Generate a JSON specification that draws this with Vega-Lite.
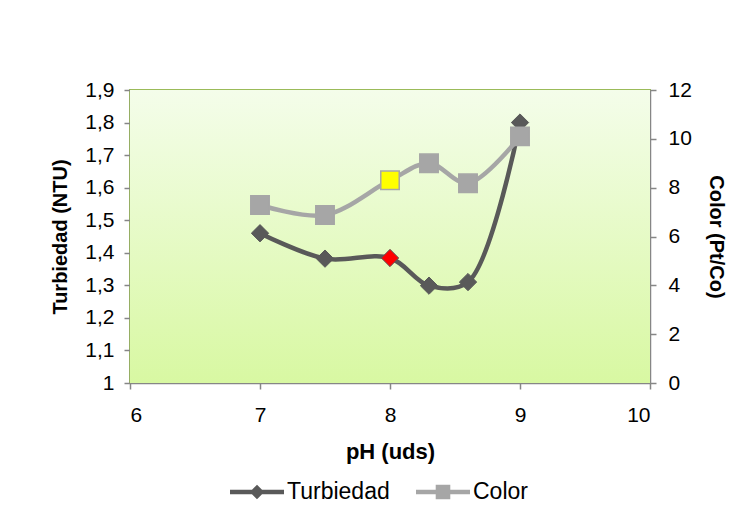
{
  "$schema": "https://vega.github.io/schema/vega-lite/v6.json",
  "width": 520,
  "height": 293,
  "autosize": "none",
  "padding": {"left": 130, "top": 90, "right": 93, "bottom": 144},
  "background": "white",
  "config": {
    "font": "Liberation Sans",
    "view": {"stroke": "#9bbb59", "strokeWidth": 2},
    "axis": {
      "grid": false,
      "domainColor": "#868686",
      "domainWidth": 1.5,
      "tickColor": "#868686",
      "tickWidth": 1.5,
      "tickSize": 6,
      "labelFont": "Liberation Sans",
      "labelFontSize": 21,
      "labelColor": "#000000",
      "labelOverlap": false,
      "titleFont": "Liberation Sans",
      "titleFontSize": 20,
      "titleFontWeight": "bold",
      "titleColor": "#000000"
    }
  },
  "data": {
    "values": [
      {"pH": 7.0, "turbiedad": 1.46, "color": 7.29},
      {"pH": 7.5, "turbiedad": 1.382, "color": 6.88},
      {"pH": 8.0, "turbiedad": 1.384, "color": 8.3},
      {"pH": 8.3, "turbiedad": 1.299, "color": 9.0},
      {"pH": 8.6, "turbiedad": 1.31, "color": 8.18},
      {"pH": 9.0, "turbiedad": 1.80, "color": 10.1}
    ]
  },
  "encoding": {
    "x": {
      "field": "pH",
      "type": "quantitative",
      "scale": {"domain": [6, 10], "nice": false, "zero": false},
      "axis": {
        "title": "pH (uds)",
        "titleFontSize": 22,
        "values": [6, 7, 8, 9, 10],
        "labelPadding": 15,
        "labelOverlap": false,
        "titlePadding": 16
      }
    }
  },
  "layer": [
    {
      "layer": [
        {
          "data": {"values": [{"pH": 6, "pH2": 10, "turbiedad": 1, "turbiedad2": 1.9}]},
          "mark": {
            "type": "rect",
            "fill": {
              "gradient": "linear",
              "x1": 0, "y1": 0, "x2": 0, "y2": 1,
              "stops": [
                {"offset": 0, "color": "#f4fdea"},
                {"offset": 1, "color": "#d8f8a2"}
              ]
            }
          },
          "encoding": {
            "x2": {"field": "pH2"},
            "y": {
              "field": "turbiedad",
              "type": "quantitative",
              "scale": {"domain": [1, 1.9], "nice": false, "zero": false},
              "axis": {
                "orient": "left",
                "title": "Turbiedad (NTU)",
                "values": [1, 1.1, 1.2, 1.3, 1.4, 1.5, 1.6, 1.7, 1.8, 1.9],
                "labelExpr": "replace(format(datum.value, '.1~f'), '.', ',')",
                "labelOverlap": false,
                "labelPadding": 10,
                "titlePadding": 14
              }
            },
            "y2": {"field": "turbiedad2"}
          }
        },
        {
          "mark": {"type": "line", "interpolate": "catmull-rom", "strokeWidth": 4.5},
          "encoding": {
            "y": {
              "field": "turbiedad",
              "type": "quantitative",
              "scale": {"domain": [1, 1.9], "nice": false, "zero": false},
              "axis": {
                "orient": "left",
                "title": "Turbiedad (NTU)",
                "values": [1, 1.1, 1.2, 1.3, 1.4, 1.5, 1.6, 1.7, 1.8, 1.9],
                "labelExpr": "replace(format(datum.value, '.1~f'), '.', ',')",
                "labelOverlap": false,
                "labelPadding": 10,
                "titlePadding": 14
              }
            },
            "color": {
              "datum": "Turbiedad",
              "type": "nominal",
              "scale": {"domain": ["Turbiedad", "Color"], "range": ["#595959", "#a6a6a6"]},
              "legend": {
                "orient": "none",
                "legendX": 100,
                "legendY": 375,
                "direction": "horizontal",
                "title": null,
                "symbolSize": 2916,
                "symbolStrokeWidth": 0,
                "labelFont": "Liberation Sans",
                "labelFontSize": 23,
                "labelColor": "#000000",
                "labelOffset": 3,
                "columnPadding": 26,
                "encode": {
                  "symbols": {
                    "update": {
                      "shape": {"signal": "datum.value === 'Turbiedad' ? 'M-1,-0.08H1V0.08H-1Z M0,-0.27L0.27,0L0,0.27L-0.27,0Z' : 'M-1,-0.08H1V0.08H-1Z M-0.27,-0.27H0.27V0.27H-0.27Z'"},
                      "fill": {"signal": "scale('color', datum.value)"},
                      "strokeWidth": {"value": 0}
                    }
                  }
                }
              }
            }
          }
        },
        {
          "mark": {"type": "point", "shape": "diamond", "filled": true, "size": 300, "opacity": 1, "strokeWidth": 1},
          "encoding": {
            "y": {
              "field": "turbiedad",
              "type": "quantitative",
              "scale": {"domain": [1, 1.9], "nice": false, "zero": false},
              "axis": {
                "orient": "left",
                "title": "Turbiedad (NTU)",
                "values": [1, 1.1, 1.2, 1.3, 1.4, 1.5, 1.6, 1.7, 1.8, 1.9],
                "labelExpr": "replace(format(datum.value, '.1~f'), '.', ',')",
                "labelOverlap": false,
                "labelPadding": 10,
                "titlePadding": 14
              }
            },
            "fill": {"condition": {"test": "datum.pH === 8", "value": "#ff0000"}, "value": "#595959"},
            "stroke": {"value": "#595959"}
          }
        }
      ]
    },
    {
      "layer": [
        {
          "mark": {"type": "line", "interpolate": "catmull-rom", "strokeWidth": 4.5},
          "encoding": {
            "y": {
              "field": "color",
              "type": "quantitative",
              "scale": {"domain": [0, 12], "nice": false},
              "axis": {
                "orient": "right",
                "title": "Color (Pt/Co)",
                "values": [0, 2, 4, 6, 8, 10, 12],
                "labelOverlap": false,
                "labelPadding": 12,
                "titlePadding": 14
              }
            },
            "color": {"datum": "Color", "type": "nominal"}
          }
        },
        {
          "mark": {"type": "point", "shape": "square", "filled": true, "size": 340, "opacity": 1, "strokeWidth": 1.5},
          "encoding": {
            "y": {
              "field": "color",
              "type": "quantitative",
              "scale": {"domain": [0, 12], "nice": false},
              "axis": {
                "orient": "right",
                "title": "Color (Pt/Co)",
                "values": [0, 2, 4, 6, 8, 10, 12],
                "labelOverlap": false,
                "labelPadding": 12,
                "titlePadding": 14
              }
            },
            "fill": {"condition": {"test": "datum.pH === 8", "value": "#ffff00"}, "value": "#a6a6a6"},
            "stroke": {"value": "#a6a6a6"}
          }
        }
      ]
    }
  ],
  "resolve": {"scale": {"y": "independent"}}
}
